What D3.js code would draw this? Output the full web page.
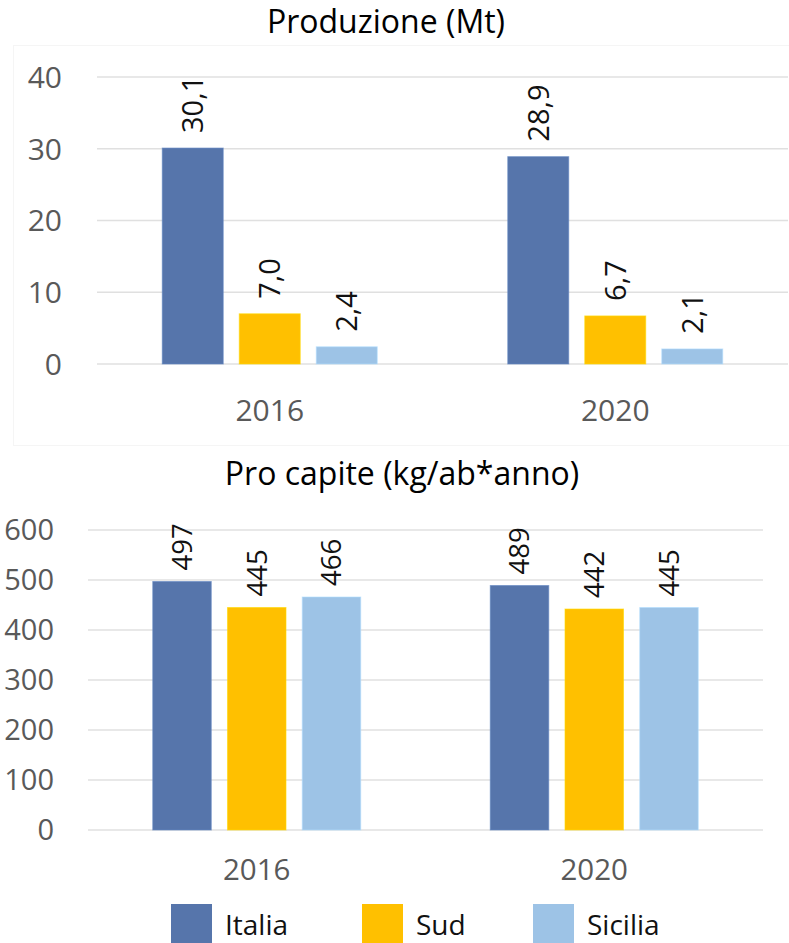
<!DOCTYPE html>
<html>
<head>
<meta charset="utf-8">
<script src="https://cdn.jsdelivr.net/npm/d3@7"></script>
<style>
  html, body { margin: 0; padding: 0; background: #fff; }
  svg { display: block; font-family: "Open Sans", "Noto Sans", sans-serif; }
</style>
</head>
<body>
<svg id="chart" width="789" height="943"></svg>
<script>
// ---- data ----
const years = ["2016", "2020"];
const seriesNames = ["Italia", "Sud", "Sicilia"];
const seriesColors = ["#5675ab", "#ffc000", "#9dc3e6"];

const produzioneTitle = "Produzione (Mt)";
const produzioneItalia = [30.1, 28.9];
const produzioneSud = [7.0, 6.7];
const produzioneSicilia = [2.4, 2.1];
const produzioneTicks = [0, 10, 20, 30, 40];

const procapiteTitle = "Pro capite (kg/ab*anno)";
const procapiteItalia = [497, 489];
const procapiteSud = [445, 442];
const procapiteSicilia = [466, 445];
const procapiteTicks = [0, 100, 200, 300, 400, 500, 600];

const svg = d3.select("#chart");

function drawChart(opts) {
  const g = svg.append("g");
  const values = [opts.italia, opts.sud, opts.sicilia];

  const x = d3.scaleBand().domain(years).range([opts.left, opts.right]).paddingInner(0).paddingOuter(0);
  const xs = d3.scaleBand().domain(seriesNames)
    .range([-opts.groupWidth / 2, opts.groupWidth / 2])
    .paddingInner(opts.innerPad).paddingOuter(0);
  const y = d3.scaleLinear().domain([0, d3.max(opts.ticks)]).range([opts.bottom, opts.top]);

  // gridlines
  g.append("g").selectAll("line").data(opts.ticks).join("line")
    .attr("x1", opts.left).attr("x2", opts.right)
    .attr("y1", d => y(d)).attr("y2", d => y(d))
    .attr("stroke", "#e0e0e0").attr("stroke-width", 1.3);

  // y tick labels
  g.append("g").selectAll("text").data(opts.ticks).join("text")
    .attr("x", opts.tickX).attr("y", d => y(d))
    .attr("dy", "0.36em")
    .attr("text-anchor", "end")
    .attr("fill", "#595959")
    .attr("font-size", opts.tickSize)
    .text(d => d);

  // bars
  const rows = [];
  years.forEach((yr, i) => seriesNames.forEach((s, j) => rows.push({ yr, s, j, v: values[j][i] })));

  const bars = g.append("g");
  bars.selectAll("rect").data(rows).join("rect")
    .attr("x", d => x(d.yr) + x.bandwidth() / 2 + xs(d.s))
    .attr("width", xs.bandwidth())
    .attr("y", d => y(d.v))
    .attr("height", d => y(0) - y(d.v))
    .attr("fill", d => seriesColors[d.j])
    .attr("stroke", d => d3.color(seriesColors[d.j]).brighter(0.35))
    .attr("stroke-opacity", 0.6)
    .attr("stroke-width", 1);

  // data labels (rotated)
  bars.selectAll("text").data(rows).join("text")
    .attr("transform", d => {
      const cx = x(d.yr) + x.bandwidth() / 2 + xs(d.s) + xs.bandwidth() / 2;
      const cy = y(d.v) - opts.labelGap;
      return `translate(${cx},${cy}) rotate(-90)`;
    })
    .attr("dy", "0.36em")
    .attr("text-anchor", "start")
    .attr("fill", "#111")
    .attr("font-size", opts.labelSize)
    .text(d => opts.fmt(d.v));

  // category labels
  g.append("g").selectAll("text").data(years).join("text")
    .attr("x", d => x(d) + x.bandwidth() / 2)
    .attr("y", opts.catY)
    .attr("text-anchor", "middle")
    .attr("fill", "#595959")
    .attr("font-size", opts.catSize)
    .text(d => d);

  // title
  g.append("text")
    .attr("x", opts.titleX).attr("y", opts.titleY)
    .attr("text-anchor", "middle")
    .attr("fill", "#000")
    .attr("font-size", opts.titleSize)
    .text(opts.title);
}

// faint chart border of the first chart
svg.append("rect").attr("x", 13.5).attr("y", 45.5).attr("width", 780).attr("height", 400)
  .attr("fill", "none").attr("stroke", "#f5f5f5");

const fmtComma = v => d3.format(".1f")(v).replace(".", ",");

drawChart({
  title: produzioneTitle, italia: produzioneItalia, sud: produzioneSud, sicilia: produzioneSicilia,
  ticks: produzioneTicks, fmt: fmtComma,
  left: 97, right: 788, top: 77, bottom: 364,
  groupWidth: 215, innerPad: 0.208,
  tickX: 62, tickSize: 30, catSize: 30, labelSize: 29, labelGap: 15,
  catY: 421, titleX: 386, titleY: 33, titleSize: 32
});

drawChart({
  title: procapiteTitle, italia: procapiteItalia, sud: procapiteSud, sicilia: procapiteSicilia,
  ticks: procapiteTicks, fmt: d => d3.format("d")(d),
  left: 88, right: 763, top: 530, bottom: 830,
  groupWidth: 208, innerPad: 0.217,
  tickX: 54, tickSize: 29, catSize: 29.5, labelSize: 27.5, labelGap: 11,
  catY: 880, titleX: 402, titleY: 485, titleSize: 32
});

// legend
const legendX = [171, 362, 533];
const legend = svg.append("g");
legend.selectAll("rect").data(seriesNames).join("rect")
  .attr("x", (d, i) => legendX[i]).attr("y", 904)
  .attr("width", 41).attr("height", 41)
  .attr("fill", (d, i) => seriesColors[i]);
legend.selectAll("text").data(seriesNames).join("text")
  .attr("x", (d, i) => legendX[i] + 54).attr("y", 935)
  .attr("fill", "#111")
  .attr("font-size", 28)
  .text(d => d);
</script>
</body>
</html>
